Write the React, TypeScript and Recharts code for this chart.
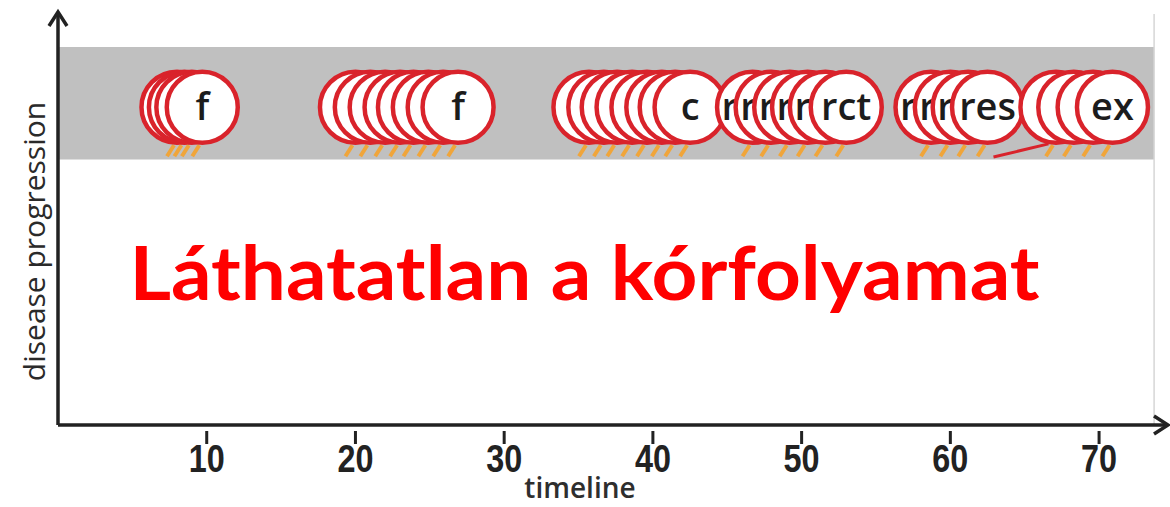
import {
  ReferenceArea,
  ReferenceDot,
  ReferenceLine,
  Scatter,
  ScatterChart,
  XAxis,
  YAxis,
} from "recharts";

// x positions (timeline units) of the overlapping circles, one array per cluster
const groupF1 = [8.0, 8.5, 9.0, 9.7];
const groupF2 = [20.0, 21.0, 22.0, 23.0, 23.9, 24.9, 25.9, 26.9];
const groupC = [35.7, 36.7, 37.6, 38.6, 39.6, 40.6, 41.5, 42.5];
const groupRct = [46.7, 47.95, 49.2, 50.4, 51.6, 53.0];
const groupRes = [58.7, 60.0, 61.2, 62.5];
const groupEx = [67.1, 68.3, 69.6, 70.9];

// only the front circle shows its full label, the ones behind peek out with "r"
const labelsF1 = ["", "", "", "f"];
const labelsF2 = ["", "", "", "", "", "", "", "f"];
const labelsC = ["", "", "", "", "", "", "", "c"];
const labelsRct = ["r", "r", "r", "r", "r", "rct"];
const labelsRes = ["r", "r", "r", "res"];
const labelsEx = ["", "", "", "ex"];

const xTicks = [10, 20, 30, 40, 50, 60, 70];
const rowLevel = 77.3;
const bandBottom = 64.6;
const bandTop = 92;
const bandEnd = 73.7;
const xMax = 74.5;

const build = (xs: number[], labels: string[]) =>
  xs.map((x, i) => ({ x, y: rowLevel, label: labels[i] }));

const points = [
  ...build(groupF1, labelsF1),
  ...build(groupF2, labelsF2),
  ...build(groupC, labelsC),
  ...build(groupRct, labelsRct),
  ...build(groupRes, labelsRes),
  ...build(groupEx, labelsEx),
];

const R = 35.5;

function Bubble(props: any) {
  const { cx, cy, payload } = props;
  const partial = payload.label === "r";
  return (
    <g>
      <line
        x1={cx - 10}
        y1={cy + 49}
        x2={cx - 3}
        y2={cy + 38}
        stroke="#f0a53a"
        strokeWidth={4}
      />
      <circle cx={cx} cy={cy} r={R} fill="#fff" stroke="#d9232b" strokeWidth={4.5} />
      {payload.label ? (
        <text
          x={partial ? cx - 31 : cx}
          y={cy + 13}
          textAnchor={partial ? "start" : "middle"}
          fontFamily="'Open Sans', sans-serif"
          fontWeight={600}
          fontSize={38}
          fill="#1c1c1c"
        >
          {payload.label}
        </text>
      ) : null}
    </g>
  );
}

function TimeTick(props: any) {
  const { x, y, payload } = props;
  return (
    <g>
      <line x1={x} y1={y - 2} x2={x} y2={y + 11} stroke="#222" strokeWidth={3} />
      <text
        x={x}
        y={y + 39}
        textAnchor="middle"
        fontFamily="'Liberation Sans', Arial, sans-serif"
        fontWeight={700}
        fontSize={38}
        fill="#222"
        textLength={36}
        lengthAdjust="spacingAndGlyphs"
      >
        {payload.value}
      </text>
    </g>
  );
}

function TimelineLabel(props: any) {
  const { viewBox } = props;
  return (
    <text
      x={viewBox.x + viewBox.width / 2 - 32}
      y={viewBox.y + 73}
      textAnchor="middle"
      fontFamily="'Open Sans', sans-serif"
      fontWeight={600}
      fontSize={28}
      fill="#2e2e2e"
    >
      timeline
    </text>
  );
}

function ProgressionLabel(props: any) {
  const { viewBox } = props;
  const x = viewBox.x + 33;
  const y = viewBox.y + viewBox.height / 2 + 22;
  return (
    <text
      x={x}
      y={y}
      transform={`rotate(-90 ${x} ${y})`}
      textAnchor="middle"
      dominantBaseline="central"
      fontFamily="'Open Sans', sans-serif"
      fontWeight={500}
      fontSize={30}
      fill="#2a2a2a"
    >
      disease progression
    </text>
  );
}

const ArrowRight = (p: any) => (
  <path
    d={`M${p.cx - 12},${p.cy - 9} L${p.cx + 2},${p.cy} L${p.cx - 12},${p.cy + 9}`}
    fill="none"
    stroke="#222"
    strokeWidth={3.5}
  />
);

const ArrowUp = (p: any) => (
  <path
    d={`M${p.cx - 9},${p.cy + 12} L${p.cx},${p.cy - 2} L${p.cx + 9},${p.cy + 12}`}
    fill="none"
    stroke="#222"
    strokeWidth={3.5}
  />
);

export default function App() {
  return (
    <div style={{ position: "absolute", left: 0, top: 0, background: "#fff" }}>
      <ScatterChart
        width={1170}
        height={507}
        margin={{ top: 14, right: 4, bottom: 22, left: 0 }}
      >
        <XAxis
          type="number"
          dataKey="x"
          domain={[0, xMax]}
          ticks={xTicks}
          allowDataOverflow
          height={60}
          axisLine={{ stroke: "#222", strokeWidth: 3.5 }}
          tickLine={false}
          tick={<TimeTick />}
          label={<TimelineLabel />}
        />
        <YAxis
          type="number"
          dataKey="y"
          domain={[0, 100]}
          width={58}
          tick={false}
          tickLine={false}
          axisLine={{ stroke: "#222", strokeWidth: 3.5 }}
          label={<ProgressionLabel />}
        />
        <ReferenceArea
          x1={0}
          x2={bandEnd}
          y1={bandBottom}
          y2={bandTop}
          fill="#c0c0c0"
          fillOpacity={1}
          stroke="none"
        />
        <ReferenceLine x={bandEnd} stroke="#d6d6d6" strokeWidth={1.5} />
        <ReferenceLine
          segment={[
            { x: 62.9, y: 65.2 },
            { x: 66.6, y: 68.4 },
          ]}
          stroke="#d9232b"
          strokeWidth={3}
        />
        <Scatter data={points} shape={Bubble} isAnimationActive={false} />
        <ReferenceDot x={xMax} y={0} r={0} shape={ArrowRight} ifOverflow="visible" />
        <ReferenceDot x={0} y={100} r={0} shape={ArrowUp} ifOverflow="visible" />
        <ReferenceDot
          x={35.4}
          y={30.5}
          r={0}
          ifOverflow="visible"
          shape={(p: any) => (
            <text
              x={p.cx}
              y={p.cy}
              textAnchor="middle"
              fontFamily="Lato, 'Open Sans', sans-serif"
              fontWeight={700}
              fontSize={74}
              fill="#ff0000"
              textLength={910}
              lengthAdjust="spacingAndGlyphs"
            >
              Láthatatlan a kórfolyamat
            </text>
          )}
        />
      </ScatterChart>
    </div>
  );
}
